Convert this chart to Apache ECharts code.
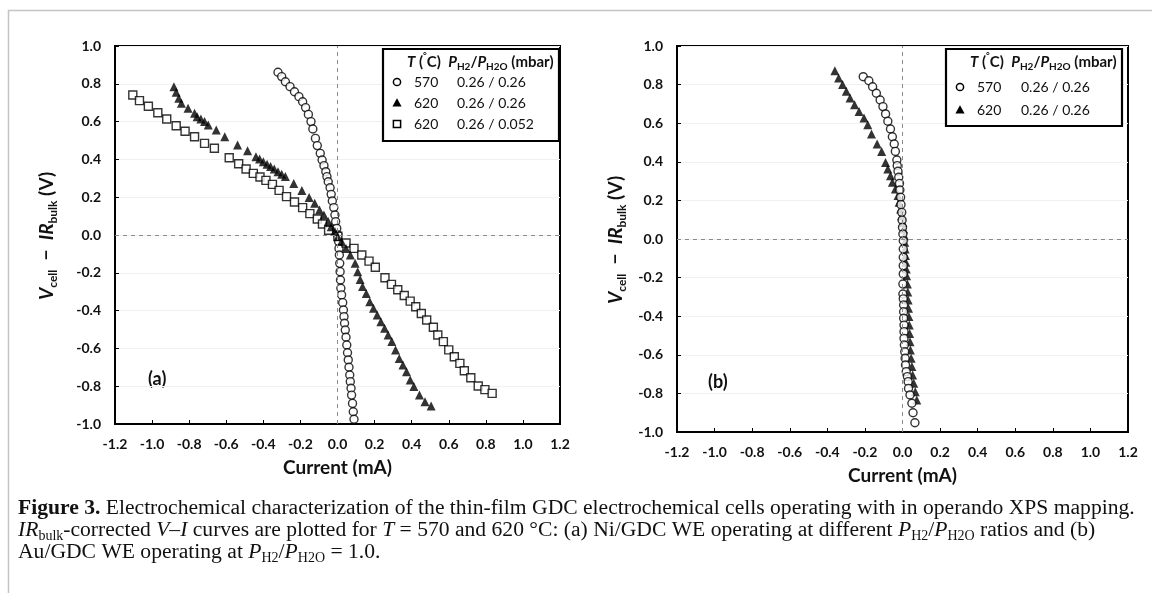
<!DOCTYPE html>
<html><head><meta charset="utf-8">
<script src="https://cdn.jsdelivr.net/npm/echarts@6/dist/echarts.min.js"></script>
<style>html,body{margin:0;padding:0;background:#fff}#c{width:1152px;height:593px}</style>
</head><body><div id="c"></div>
<script>
// ---------- DATA ----------
// Panel (a): Ni/GDC WE  [current (mA), V_cell - IR_bulk (V)]
const circ570a = [
[-0.321,0.861],[-0.301,0.838],[-0.281,0.811],[-0.256,0.785],[-0.232,0.758],[-0.208,0.732],[-0.188,0.705],[-0.172,0.674],[-0.157,0.638],[-0.143,0.600],[-0.133,0.561],[-0.119,0.511],[-0.109,0.473],[-0.093,0.432],[-0.083,0.397],[-0.073,0.367],[-0.063,0.335],[-0.057,0.309],[-0.050,0.282],[-0.040,0.250],[-0.034,0.215],[-0.028,0.180],[-0.020,0.145],[-0.014,0.106],[-0.010,0.071],[-0.004,0.035],[0.002,0.000],[0.006,-0.035],[0.008,-0.071],[0.010,-0.106],[0.012,-0.150],[0.014,-0.194],[0.016,-0.238],[0.018,-0.282],[0.022,-0.317],[0.028,-0.358],[0.032,-0.397],[0.035,-0.432],[0.038,-0.467],[0.042,-0.503],[0.046,-0.541],[0.050,-0.582],[0.054,-0.623],[0.058,-0.661],[0.062,-0.700],[0.066,-0.741],[0.069,-0.776],[0.073,-0.811],[0.076,-0.847],[0.081,-0.891],[0.085,-0.935],[0.089,-0.975]
];
const tri620a = [
[-0.882,0.785],[-0.870,0.755],[-0.856,0.723],[-0.842,0.697],[-0.806,0.670],[-0.771,0.644],[-0.757,0.626],[-0.737,0.614],[-0.717,0.600],[-0.697,0.582],[-0.654,0.556],[-0.608,0.520],[-0.539,0.476],[-0.485,0.446],[-0.440,0.414],[-0.420,0.402],[-0.400,0.388],[-0.380,0.374],[-0.361,0.362],[-0.341,0.349],[-0.321,0.335],[-0.301,0.321],[-0.281,0.309],[-0.236,0.273],[-0.192,0.235],[-0.153,0.198],[-0.123,0.168],[-0.097,0.132],[-0.073,0.106],[-0.050,0.071],[-0.034,0.044],[-0.014,0.018],[0.002,-0.009],[0.022,-0.035],[0.046,-0.071],[0.069,-0.106],[0.095,-0.150],[0.109,-0.194],[0.122,-0.235],[0.135,-0.273],[0.155,-0.309],[0.174,-0.353],[0.194,-0.388],[0.214,-0.423],[0.234,-0.459],[0.254,-0.494],[0.273,-0.529],[0.293,-0.564],[0.313,-0.608],[0.333,-0.653],[0.353,-0.688],[0.372,-0.723],[0.392,-0.767],[0.412,-0.802],[0.442,-0.847],[0.472,-0.882],[0.505,-0.905]
];
const sq620a = [
[-1.104,0.741],[-1.068,0.711],[-1.020,0.681],[-0.969,0.647],[-0.921,0.614],[-0.870,0.578],[-0.822,0.549],[-0.771,0.520],[-0.717,0.485],[-0.664,0.459],[-0.584,0.409],[-0.533,0.377],[-0.493,0.349],[-0.454,0.326],[-0.418,0.307],[-0.386,0.289],[-0.351,0.268],[-0.315,0.236],[-0.275,0.203],[-0.232,0.175],[-0.188,0.145],[-0.149,0.113],[-0.109,0.085],[-0.081,0.058],[-0.048,0.025],[0.002,-0.007],[0.046,-0.042],[0.089,-0.071],[0.131,-0.106],[0.170,-0.138],[0.204,-0.171],[0.256,-0.226],[0.291,-0.261],[0.325,-0.290],[0.360,-0.320],[0.392,-0.350],[0.422,-0.380],[0.452,-0.415],[0.481,-0.450],[0.517,-0.488],[0.541,-0.529],[0.571,-0.564],[0.600,-0.608],[0.630,-0.644],[0.660,-0.679],[0.684,-0.718],[0.719,-0.755],[0.759,-0.799],[0.795,-0.818],[0.834,-0.838]
];
// Panel (b): Au/GDC WE
const circ570b = [
[-0.209,0.841],[-0.179,0.820],[-0.159,0.789],[-0.139,0.755],[-0.119,0.720],[-0.104,0.686],[-0.090,0.648],[-0.078,0.610],[-0.064,0.570],[-0.054,0.530],[-0.044,0.492],[-0.038,0.454],[-0.030,0.409],[-0.028,0.380],[-0.024,0.351],[-0.020,0.320],[-0.016,0.288],[-0.014,0.254],[-0.010,0.216],[-0.008,0.178],[-0.004,0.138],[-0.002,0.098],[0.000,0.060],[0.002,0.026],[0.004,-0.009],[0.004,-0.052],[0.004,-0.095],[0.004,-0.138],[0.004,-0.181],[0.002,-0.233],[0.002,-0.285],[0.004,-0.310],[0.006,-0.342],[0.006,-0.377],[0.006,-0.411],[0.008,-0.446],[0.008,-0.480],[0.008,-0.515],[0.010,-0.549],[0.012,-0.584],[0.014,-0.618],[0.016,-0.653],[0.020,-0.687],[0.026,-0.713],[0.030,-0.739],[0.032,-0.774],[0.040,-0.808],[0.050,-0.851],[0.056,-0.900],[0.066,-0.952]
];
const tri620b = [
[-0.360,0.872],[-0.340,0.834],[-0.319,0.800],[-0.299,0.765],[-0.279,0.731],[-0.255,0.696],[-0.231,0.661],[-0.205,0.627],[-0.185,0.592],[-0.165,0.544],[-0.135,0.492],[-0.111,0.454],[-0.090,0.397],[-0.078,0.363],[-0.064,0.328],[-0.054,0.294],[-0.038,0.259],[-0.024,0.225],[-0.018,0.190],[-0.010,0.155],[-0.004,0.121],[0.002,0.086],[0.006,0.052],[0.010,0.017],[0.012,-0.017],[0.014,-0.052],[0.016,-0.086],[0.018,-0.121],[0.020,-0.155],[0.022,-0.190],[0.026,-0.233],[0.028,-0.275],[0.030,-0.316],[0.032,-0.359],[0.034,-0.402],[0.036,-0.446],[0.038,-0.489],[0.040,-0.532],[0.042,-0.575],[0.046,-0.618],[0.050,-0.661],[0.054,-0.705],[0.060,-0.748],[0.068,-0.791],[0.076,-0.834]
];
// Axis ranges / ticks
const xRange = [-1.2, 1.2], xStep = 0.2;
const yRange = [-1.0, 1.0], yStep = 0.2;
// Legend text
const legendTempsA = ['570', '620', '620'];
const legendRatiosA = ['0.26 / 0.26', '0.26 / 0.26', '0.26 / 0.052'];
const legendTempsB = ['570', '620'];
const legendRatiosB = ['0.26 / 0.26', '0.26 / 0.26'];
const panelLabels = ['(a)', '(b)'];

// ---------- STYLE ----------
const FONT = 'Lato';
const INK = '#111';
const fmt = v => (Math.abs(v) < 1e-9 ? '0.0' : v.toFixed(1));

function xAxisCfg(gi) {
  return {
    type: 'value', gridIndex: gi, min: xRange[0], max: xRange[1], interval: xStep,
    axisLine: { show: true, onZero: false, lineStyle: { color: '#000', width: 2 } },
    axisTick: { show: true, inside: true, length: 4, lineStyle: { color: '#000', width: 1 } },
    axisLabel: { formatter: fmt, fontFamily: FONT, fontWeight: 'bold', fontSize: 14, color: INK, margin: 13 },
    splitLine: { show: false },
    name: 'Current (mA)', nameLocation: 'middle', nameGap: 34,
    nameTextStyle: { fontFamily: FONT, fontWeight: 'bold', fontSize: 19, color: INK }
  };
}
function yAxisCfg(gi) {
  return {
    type: 'value', gridIndex: gi, min: yRange[0], max: yRange[1], interval: yStep,
    axisLine: { show: true, onZero: false, lineStyle: { color: '#000', width: 2 } },
    axisTick: { show: true, inside: true, length: 4, lineStyle: { color: '#000', width: 1 } },
    axisLabel: { formatter: fmt, fontFamily: FONT, fontWeight: 'bold', fontSize: 14, color: INK, margin: 14 },
    splitLine: { show: true, lineStyle: { color: '#f0f0f0', width: 1 } }
  };
}
const dashed = {
  silent: true, symbol: ['none', 'none'], animation: false,
  label: { show: false },
  lineStyle: { type: [4, 4], color: '#8a8a8a', width: 1 },
  data: [{ xAxis: 0 }, { yAxis: 0 }]
};
const circStyle = { symbol: 'circle', symbolSize: 8, itemStyle: { color: '#fff', borderColor: '#000', borderWidth: 1.4 } };
const triStyle = { symbol: 'triangle', symbolSize: 9, itemStyle: { color: '#000' } };
const sqStyle = { symbol: 'rect', symbolSize: 8, itemStyle: { color: '#fff', borderColor: '#000', borderWidth: 1.4 } };

// ---------- GRAPHIC HELPERS ----------
function marker(kind, x, y) {
  if (kind === 'circle') return { type: 'circle', shape: { cx: x, cy: y, r: 3.6 }, style: { fill: '#fff', stroke: '#000', lineWidth: 1.5 } };
  if (kind === 'triangle') return { type: 'polygon', shape: { points: [[x, y - 4.8], [x + 4.6, y + 3.6], [x - 4.6, y + 3.6]] }, style: { fill: '#000' } };
  return { type: 'rect', shape: { x: x - 3.6, y: y - 3.6, width: 7.2, height: 7.2 }, style: { fill: '#fff', stroke: '#000', lineWidth: 1.5 } };
}
const legRich = {
  i: { fontFamily: FONT, fontSize: 15, fontWeight: 'bold', fontStyle: 'italic', lineHeight: 20, fill: INK },
  n: { fontFamily: FONT, fontSize: 15, fontWeight: 'bold', lineHeight: 20, fill: INK },
  d: { fontFamily: FONT, fontSize: 9, fontWeight: 'bold', lineHeight: 9, padding: [0, 0, 11, 0], fill: INK },
  s: { fontFamily: FONT, fontSize: 10, fontWeight: 'bold', lineHeight: 10, padding: [10, 0, 0, 0], fill: INK }
};
const legHeader = '{i|T}{n| (}{d|°}{n|C)  }{i|P}{s|H2}{n|/}{i|P}{s|H2O}{n| (mbar)}';
function legend(box, headX, headY, markX, tempX, ratioX, rowsY, kinds, temps, ratios) {
  const els = [];
  els.push({ type: 'rect', shape: box, style: { fill: '#fff', stroke: '#000', lineWidth: 2.2 }, z: 10 });
  els.push({ type: 'text', x: headX, y: headY, z: 11, style: { text: legHeader, rich: legRich, align: 'left', verticalAlign: 'middle' } });
  kinds.forEach((k, i) => {
    const m = marker(k, markX, rowsY[i]); m.z = 11; els.push(m);
    els.push({ type: 'text', x: tempX, y: rowsY[i], z: 11, style: { text: temps[i], fontFamily: FONT, fontSize: 14, fill: INK, align: 'left', verticalAlign: 'middle' } });
    els.push({ type: 'text', x: ratioX, y: rowsY[i], z: 11, style: { text: ratios[i], fontFamily: FONT, fontSize: 14, fill: INK, align: 'left', verticalAlign: 'middle' } });
  });
  return els;
}
const yTitleRich = {
  v: { fontFamily: FONT, fontSize: 19, fontWeight: 'bold', fontStyle: 'italic', lineHeight: 24, fill: INK },
  n: { fontFamily: FONT, fontSize: 19, fontWeight: 'bold', lineHeight: 24, fill: INK },
  s: { fontFamily: FONT, fontSize: 12, fontWeight: 'bold', lineHeight: 12, padding: [12, 0, 0, 0], fill: INK }
};
const yTitle = '{v|V}{s|cell}{n|  −  }{v|IR}{s|bulk}{n| (V)}';
function yTitleEl(x, y) {
  return { type: 'text', x: x, y: y, rotation: Math.PI / 2, style: { text: yTitle, rich: yTitleRich, align: 'center', verticalAlign: 'middle' } };
}
const CF = 'Liberation Serif', CS = 21.6;
const capRich = {
  b: { fontFamily: CF, fontSize: CS, fontWeight: 'bold', lineHeight: 22, fill: '#111' },
  n: { fontFamily: CF, fontSize: CS, lineHeight: 22, fill: '#111' },
  i: { fontFamily: CF, fontSize: CS, fontStyle: 'italic', lineHeight: 22, fill: '#111' },
  s: { fontFamily: CF, fontSize: 14, lineHeight: 14, padding: [12, 0, 0, 0], fill: '#111' }
};
const caption = [
  '{b|Figure 3.}{n| Electrochemical characterization of the thin-film GDC electrochemical cells operating with in operando XPS mapping.}',
  '{i|IR}{s|bulk}{n|-corrected }{i|V–I}{n| curves are plotted for }{i|T}{n| = 570 and 620 °C: (a) Ni/GDC WE operating at different }{i|P}{s|H2}{n|/}{i|P}{s|H2O}{n| ratios and (b)}',
  '{n|Au/GDC WE operating at }{i|P}{s|H2}{n|/}{i|P}{s|H2O}{n| = 1.0.}'
].join('\n');

const graphic = [
  { type: 'polyline', shape: { points: [[8.5, 593], [8.5, 10.5], [1152, 10.5]] }, style: { stroke: '#c4c4c4', lineWidth: 1.5, fill: null } },
  yTitleEl(47, 236),
  yTitleEl(616, 240),
  { type: 'text', x: 148, y: 379, style: { text: panelLabels[0], fontFamily: FONT, fontWeight: 'bold', fontSize: 18, fill: INK, align: 'left', verticalAlign: 'middle' } },
  { type: 'text', x: 708, y: 382, style: { text: panelLabels[1], fontFamily: FONT, fontWeight: 'bold', fontSize: 18, fill: INK, align: 'left', verticalAlign: 'middle' } },
  { type: 'text', x: 18, y: 497, style: { text: caption, rich: capRich, align: 'left', verticalAlign: 'top' } }
].concat(
  legend({ x: 383, y: 49, width: 176, height: 92 }, 407, 62, 397, 414, 457, [82, 103, 124], ['circle', 'triangle', 'rect'], legendTempsA, legendRatiosA),
  legend({ x: 946, y: 49, width: 176, height: 77 }, 970, 62, 960, 977, 1021, [87, 110], ['circle', 'triangle'], legendTempsB, legendRatiosB)
);

const chart = echarts.init(document.getElementById('c'), null, { renderer: 'canvas' });
chart.setOption({
  animation: false,
  backgroundColor: '#fff',
  grid: [
    { left: 115, top: 46, width: 445, height: 378, show: true, borderColor: '#000', borderWidth: 2, containLabel: false },
    { left: 677, top: 46, width: 451, height: 386, show: true, borderColor: '#000', borderWidth: 2, containLabel: false }
  ],
  xAxis: [xAxisCfg(0), xAxisCfg(1)],
  yAxis: [yAxisCfg(0), yAxisCfg(1)],
  series: [
    Object.assign({ type: 'scatter', name: '570 a', xAxisIndex: 0, yAxisIndex: 0, data: circ570a, markLine: dashed, z: 3 }, circStyle),
    Object.assign({ type: 'scatter', name: '620 a', xAxisIndex: 0, yAxisIndex: 0, data: tri620a, z: 4 }, triStyle),
    Object.assign({ type: 'scatter', name: '620 a2', xAxisIndex: 0, yAxisIndex: 0, data: sq620a, z: 3 }, sqStyle),
    Object.assign({ type: 'scatter', name: '620 b', xAxisIndex: 1, yAxisIndex: 1, data: tri620b, markLine: dashed, z: 3 }, triStyle),
    Object.assign({ type: 'scatter', name: '570 b', xAxisIndex: 1, yAxisIndex: 1, data: circ570b, z: 4 }, circStyle)
  ],
  graphic: graphic
});
</script></body></html>
